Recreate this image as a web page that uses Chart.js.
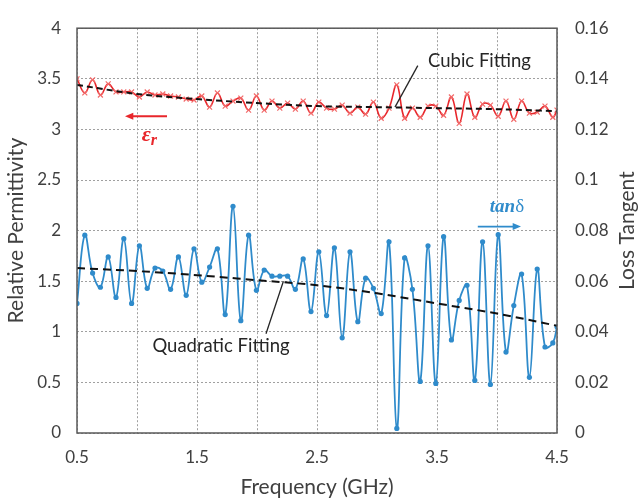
<!DOCTYPE html>
<html>
<head>
<meta charset="utf-8">
<script src="https://cdn.jsdelivr.net/npm/chart.js@4.4.0/dist/chart.umd.min.js"></script>
<style>
  html, body { margin: 0; padding: 0; background: #fff; }
  canvas { display: block; }
</style>
</head>
<body>
<canvas id="chart" width="641" height="502"></canvas>
<script>
// measured frequency points (GHz)
const freq = [0.5, 0.565, 0.63, 0.695, 0.76, 0.825, 0.89, 0.955, 1.02, 1.085, 1.15, 1.215, 1.28, 1.345, 1.41, 1.475,
  1.54, 1.605, 1.67, 1.735, 1.8, 1.865, 1.93, 1.995, 2.06, 2.125, 2.19, 2.255, 2.32, 2.385, 2.45, 2.515,
  2.58, 2.645, 2.71, 2.775, 2.84, 2.905, 2.97, 3.035, 3.1, 3.165, 3.23, 3.295, 3.36, 3.425, 3.49, 3.555,
  3.62, 3.685, 3.75, 3.815, 3.88, 3.945, 4.01, 4.075, 4.14, 4.205, 4.27, 4.335, 4.4, 4.465, 4.5];

const permittivity = [3.50, 3.36, 3.49, 3.34, 3.45, 3.37, 3.37, 3.37, 3.32, 3.37, 3.34, 3.35, 3.33, 3.32, 3.30, 3.29,
  3.33, 3.22, 3.36, 3.23, 3.28, 3.31, 3.19, 3.33, 3.19, 3.28, 3.21, 3.26, 3.20, 3.28, 3.16, 3.27,
  3.21, 3.20, 3.24, 3.16, 3.22, 3.15, 3.27, 3.11, 3.21, 3.44, 3.11, 3.21, 3.12, 3.23, 3.23, 3.14,
  3.32, 3.06, 3.35, 3.12, 3.25, 3.24, 3.13, 3.28, 3.10, 3.28, 3.16, 3.17, 3.23, 3.12, 3.19];

const lossTangent = [0.0512, 0.0782, 0.0632, 0.0576, 0.0696, 0.0536, 0.0768, 0.0512, 0.0740, 0.0572, 0.0652, 0.0640, 0.0568, 0.0696, 0.0544, 0.0728,
  0.0596, 0.0656, 0.0728, 0.0468, 0.0896, 0.0444, 0.0782, 0.0564, 0.0644, 0.0620, 0.0620, 0.0620, 0.0568, 0.0688, 0.0480, 0.0716,
  0.0464, 0.0732, 0.0376, 0.0716, 0.0440, 0.0612, 0.0572, 0.0472, 0.0756, 0.0018, 0.0692, 0.0568, 0.0204, 0.0740, 0.0196, 0.0776,
  0.0368, 0.0524, 0.0584, 0.0208, 0.0756, 0.0192, 0.0784, 0.0320, 0.0504, 0.0628, 0.0220, 0.0648, 0.0340, 0.0356, 0.0420];

// fitted curves
const fitFreq = [0.5, 1, 1.5, 2, 2.5, 3, 3.5, 4, 4.5];
const cubicFit = [3.44, 3.35, 3.30, 3.26, 3.23, 3.22, 3.21, 3.20, 3.18];
const quadFit = [0.0652, 0.0640, 0.0624, 0.0604, 0.0584, 0.0552, 0.0512, 0.0472, 0.0424];

const xTickLabels = ['0.5', '1.5', '2.5', '3.5', '4.5'];

const pts = (xs, ys) => xs.map((x, i) => ({x, y: ys[i]}));

const RED = '#E8262B', BLUE = '#2F8BCB', TXT = '#404040';
const tickFont = {family: 'Lato', size: 17};
const titleFont = {family: 'Lato', size: 21};

function arrow(ctx, x0, y0, x1, y1, color) {
  const ang = Math.atan2(y1 - y0, x1 - x0), h = 9;
  ctx.strokeStyle = color; ctx.fillStyle = color; ctx.lineWidth = 1.8;
  ctx.beginPath(); ctx.moveTo(x0, y0);
  ctx.lineTo(x1 - Math.cos(ang) * h * 0.8, y1 - Math.sin(ang) * h * 0.8); ctx.stroke();
  ctx.beginPath(); ctx.moveTo(x1, y1);
  ctx.lineTo(x1 - h * Math.cos(ang - 0.4), y1 - h * Math.sin(ang - 0.4));
  ctx.lineTo(x1 - h * Math.cos(ang + 0.4), y1 - h * Math.sin(ang + 0.4));
  ctx.closePath(); ctx.fill();
}

const extras = {
  id: 'extras',
  afterDatasetsDraw(chart) {
    const {ctx, chartArea: a, scales: {x, y}} = chart;
    const px = v => x.getPixelForValue(v), py = v => y.getPixelForValue(v);
    ctx.save();
    // plot frame
    ctx.strokeStyle = '#595959'; ctx.lineWidth = 1.5;
    ctx.strokeRect(a.left, a.top, a.right - a.left, a.bottom - a.top);

    // right axis title, reading upwards like the left one
    ctx.save();
    ctx.translate(627, (a.top + a.bottom) / 2);
    ctx.rotate(-Math.PI / 2);
    ctx.fillStyle = TXT; ctx.font = '21px Lato';
    ctx.textAlign = 'center'; ctx.textBaseline = 'middle';
    ctx.fillText('Loss Tangent', 0, 0);
    ctx.restore();

    // leader lines
    ctx.strokeStyle = '#262626'; ctx.lineWidth = 1.3;
    ctx.beginPath(); ctx.moveTo(px(3.15), py(3.22)); ctx.lineTo(px(3.34), py(3.63)); ctx.stroke();
    ctx.beginPath(); ctx.moveTo(px(2.075), py(0.98)); ctx.lineTo(px(2.22), py(1.5)); ctx.stroke();

    ctx.fillStyle = '#262626';
    ctx.font = '18.5px Lato';
    ctx.textBaseline = 'middle';
    ctx.textAlign = 'left';
    ctx.fillText('Cubic Fitting', px(3.425), py(3.68));
    ctx.textAlign = 'center';
    ctx.fillText('Quadratic Fitting', px(1.7), py(0.857));

    // series markers
    arrow(ctx, px(1.25), py(3.13), px(0.9), py(3.13), RED);
    arrow(ctx, px(3.84), py(2.04), px(4.2), py(2.04), BLUE);

    ctx.textAlign = 'left';
    ctx.fillStyle = RED;
    ctx.font = 'bold italic 22px "Liberation Serif"';
    const ex = px(1.04), ey = py(2.94);
    ctx.fillText('ε', ex, ey);
    const ew = ctx.measureText('ε').width;
    ctx.font = 'bold italic 16px "Liberation Serif"';
    ctx.fillText('r', ex + ew, ey + 5);

    ctx.fillStyle = BLUE;
    ctx.font = 'bold italic 19px "Liberation Serif"';
    const tx = px(3.94), ty = py(2.23);
    ctx.fillText('tan', tx, ty);
    const tw = ctx.measureText('tan').width;
    ctx.font = '19px "Liberation Serif"';
    ctx.fillText('δ', tx + tw, ty);
    ctx.restore();
  }
};

new Chart(document.getElementById('chart'), {
  type: 'line',
  data: {
    datasets: [
      {
        data: pts(fitFreq, cubicFit), yAxisID: 'y', order: 0,
        borderColor: '#111', borderWidth: 2, borderDash: [6, 4],
        pointRadius: 0, cubicInterpolationMode: 'monotone'
      },
      {
        data: pts(fitFreq, quadFit), yAxisID: 'y1', order: 0,
        borderColor: '#111', borderWidth: 2, borderDash: [8, 5],
        pointRadius: 0, cubicInterpolationMode: 'monotone'
      },
      {
        label: 'εr', data: pts(freq, permittivity), yAxisID: 'y', order: 1,
        borderColor: RED, borderWidth: 1.6, tension: 0.4,
        pointStyle: 'crossRot', pointRadius: 3.5, pointBorderColor: '#F26A6A', pointBorderWidth: 1.2
      },
      {
        label: 'tanδ', data: pts(freq, lossTangent), yAxisID: 'y1', order: 1,
        borderColor: BLUE, borderWidth: 1.8, tension: 0.4,
        pointStyle: 'circle', pointRadius: 2.6, pointBackgroundColor: BLUE, pointBorderColor: BLUE, pointBorderWidth: 0
      }
    ]
  },
  options: {
    responsive: false,
    animation: false,
    layout: {padding: {top: 13, left: 0, right: 0, bottom: 0}},
    plugins: {legend: {display: false}, tooltip: {enabled: false}},
    scales: {
      x: {
        type: 'linear', min: 0.5, max: 4.5,
        afterFit: s => { s.height = 69; },
        ticks: {
          stepSize: 0.5, autoSkip: false, maxRotation: 0, padding: 14,
          color: TXT, font: tickFont,
          callback: v => { const t = String(Math.round(v * 10) / 10); return xTickLabels.includes(t) ? t : ''; }
        },
        grid: {color: '#A0A0A0', lineWidth: 1, drawTicks: false},
        border: {display: false, dash: [2, 2]},
        title: {display: true, text: 'Frequency (GHz)', color: TXT, font: titleFont, padding: {top: 2, bottom: 2}}
      },
      y: {
        position: 'left', min: 0, max: 4,
        afterFit: s => { s.width = 77; },
        ticks: {
          stepSize: 0.5, padding: 16, color: TXT, font: tickFont,
          callback: v => String(Number(v.toFixed(1)))
        },
        grid: {color: '#A0A0A0', lineWidth: 1, drawTicks: false},
        border: {display: false, dash: [2, 2]},
        title: {display: true, text: 'Relative Permittivity', color: TXT, font: titleFont, padding: {top: 4, bottom: 4}}
      },
      y1: {
        position: 'right', min: 0, max: 0.16,
        afterFit: s => { s.width = 84; },
        ticks: {
          stepSize: 0.02, padding: 18, color: TXT, font: tickFont,
          callback: v => String(Number(v.toFixed(2)))
        },
        grid: {drawOnChartArea: false, drawTicks: false},
        border: {display: false},
        title: {display: false}
      }
    }
  },
  plugins: [extras]
});
</script>
</body>
</html>
